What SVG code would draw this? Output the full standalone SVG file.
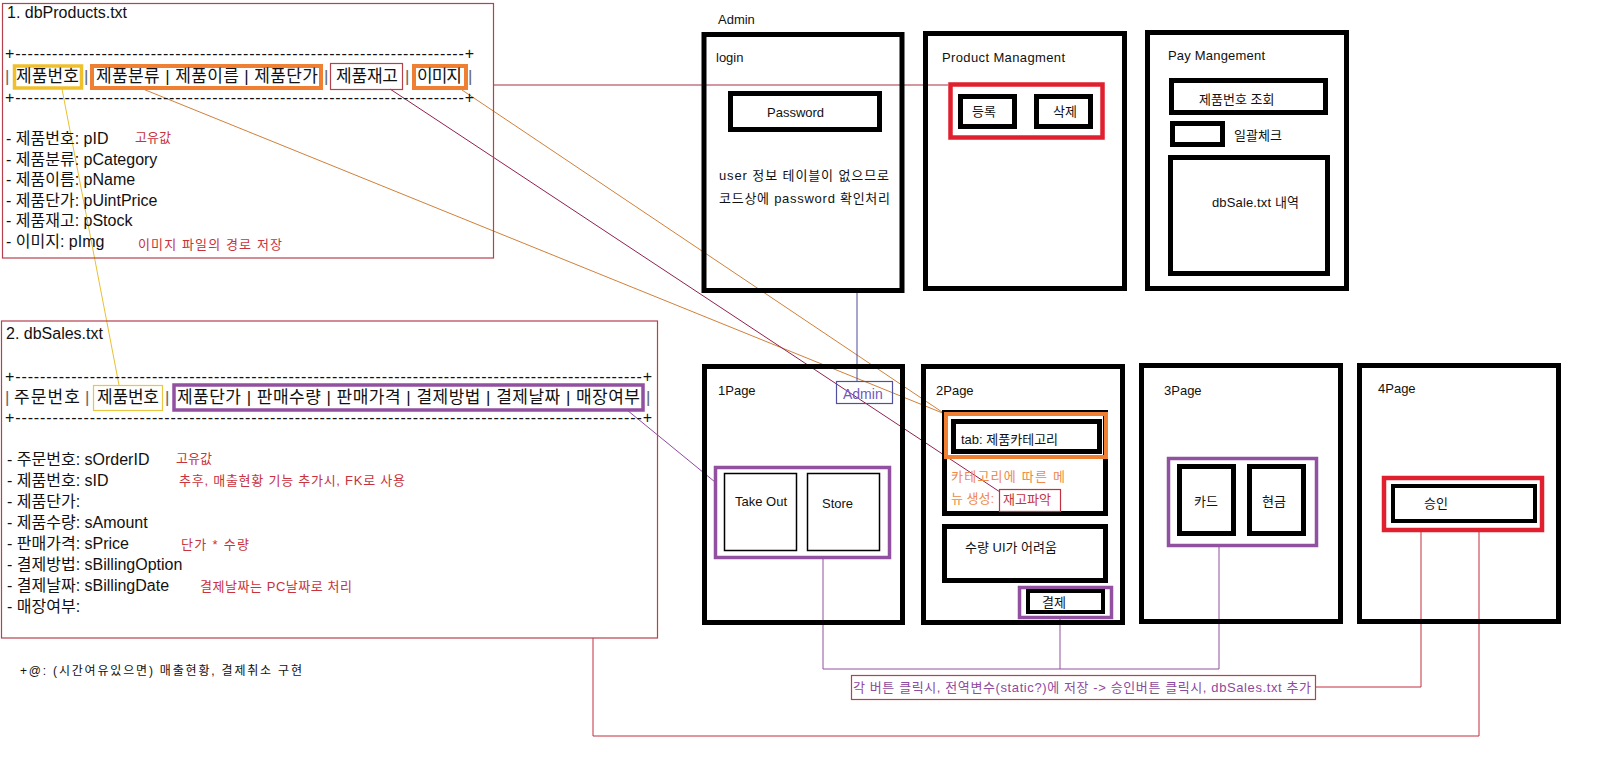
<svg xmlns="http://www.w3.org/2000/svg" width="1601" height="780" viewBox="0 0 1601 780">
<style>
text{font-family:"Liberation Sans","Noto Sans CJK KR",sans-serif;fill:#111;}
.t16{font-size:16px;}
.t17{font-size:17px;}
.t13{font-size:13px;}
.t12{font-size:12px;}
.red{fill:#c8323c;}
.pipe{fill:#666;font-size:17px;}
.file{fill:none;stroke:#b5404e;stroke-width:1.2;}
.page{fill:none;stroke:#000;stroke-width:5;}
.blk{fill:none;stroke:#000;stroke-width:5;}
.blk4{fill:none;stroke:#000;stroke-width:4;}
.thin{fill:none;stroke:#000;stroke-width:1.5;}
.pur{fill:none;stroke:#9150a0;stroke-width:3.5;}
.redbox{fill:none;stroke:#e0202e;stroke-width:4.5;}
.orbox{fill:none;stroke:#ee7f33;stroke-width:4;}
.ylbox{fill:none;stroke:#f0c02c;stroke-width:3.5;}
.c{fill:none;stroke-width:1;}
</style>

<g id="connectors">
  <line class="c" x1="494" y1="85" x2="948" y2="85" stroke="#a83040"/>
  <line class="c" x1="143" y1="89" x2="945" y2="414" stroke="#d0803a"/>
  <line class="c" x1="462" y1="90" x2="945" y2="414" stroke="#d0803a"/>
  <line class="c" x1="390" y1="89" x2="1000" y2="492" stroke="#902050"/>
  <line class="c" x1="62" y1="89" x2="119" y2="385" stroke="#e8c030"/>
  <line class="c" x1="627" y1="410" x2="715" y2="482" stroke="#8e4a9e"/>
  <line class="c" x1="857" y1="290" x2="857" y2="381" stroke="#4a4a9a"/>
  <polyline class="c" points="823,559 823,669 1219,669 1219,547" stroke="#9150a0"/>
  <line class="c" x1="1060" y1="618" x2="1060" y2="669" stroke="#9150a0"/>
  <polyline class="c" points="1316,687 1421,687 1421,532" stroke="#c0303c"/>
  <polyline class="c" points="1479,532 1479,736 593,736 593,638" stroke="#c0303c"/>
</g>

<g id="dbProducts">
  <rect class="file" x="2.5" y="3.5" width="491" height="254.5"/>
  <text class="t16" x="7" y="18">1. dbProducts.txt</text>
  <text class="t16" x="5" y="59" textLength="469" lengthAdjust="spacing">+-------------------------------------------------------------------------+</text>
  <text class="t16" x="5" y="103" textLength="469" lengthAdjust="spacing">+-------------------------------------------------------------------------+</text>
  <rect class="ylbox" x="14.5" y="66" width="67" height="22"/>
  <rect class="orbox" x="92" y="66" width="229" height="22"/>
  <rect fill="none" stroke="#b5404e" stroke-width="1.2" x="330.5" y="63.5" width="72" height="26"/>
  <rect class="orbox" x="414" y="66" width="52" height="22"/>
  <text class="pipe" x="5" y="82">|</text>
  <text class="t17" x="16" y="82" textLength="63">제품번호</text>
  <text class="pipe" x="84" y="82">|</text>
  <text class="t17" x="96" y="82" textLength="222">제품분류 | 제품이름 | 제품단가</text>
  <text class="pipe" x="324" y="82">|</text>
  <text class="t17" x="336" y="82" textLength="62">제품재고</text>
  <text class="pipe" x="405" y="82">|</text>
  <text class="t17" x="417" y="82" textLength="45">이미지</text>
  <text class="pipe" x="468" y="82">|</text>
  <text class="t16" x="6" y="144">- 제품번호: pID</text>
  <text class="t16" x="6" y="165">- 제품분류: pCategory</text>
  <text class="t16" x="6" y="185">- 제품이름: pName</text>
  <text class="t16" x="6" y="206">- 제품단가: pUintPrice</text>
  <text class="t16" x="6" y="226">- 제품재고: pStock</text>
  <text class="t16" x="6" y="247">- 이미지: pImg</text>
  <text class="t13 red" x="135" y="142">고유값</text>
  <text class="t13 red" x="138" y="249" textLength="144">이미지 파일의 경로 저장</text>
</g>

<g id="dbSales">
  <rect class="file" x="1.5" y="321" width="656" height="317"/>
  <text class="t16" x="6" y="339">2. dbSales.txt</text>
  <text class="t16" x="5" y="382" textLength="647" lengthAdjust="spacing">+-----------------------------------------------------------------------------------------------------+</text>
  <text class="t16" x="5" y="423" textLength="647" lengthAdjust="spacing">+-----------------------------------------------------------------------------------------------------+</text>
  <rect fill="none" stroke="#e8c840" stroke-width="1.2" x="93.5" y="385.5" width="69" height="25"/>
  <rect class="pur" x="174" y="385" width="469" height="25"/>
  <text class="pipe" x="5" y="403">|</text>
  <text class="t17" x="14" y="403" textLength="66">주문번호</text>
  <text class="pipe" x="85" y="403">|</text>
  <text class="t17" x="97" y="403" textLength="62">제품번호</text>
  <text class="pipe" x="165" y="403">|</text>
  <text class="t17" x="177" y="403" textLength="463">제품단가 | 판매수량 | 판매가격 | 결제방법 | 결제날짜 | 매장여부</text>
  <text class="pipe" x="646" y="403">|</text>
  <text class="t16" x="7" y="465">- 주문번호: sOrderID</text>
  <text class="t16" x="7" y="486">- 제품번호: sID</text>
  <text class="t16" x="7" y="507">- 제품단가:</text>
  <text class="t16" x="7" y="528">- 제품수량: sAmount</text>
  <text class="t16" x="7" y="549">- 판매가격: sPrice</text>
  <text class="t16" x="7" y="570">- 결제방법: sBillingOption</text>
  <text class="t16" x="7" y="591">- 결제날짜: sBillingDate</text>
  <text class="t16" x="7" y="612">- 매장여부:</text>
  <text class="t13 red" x="176" y="463">고유값</text>
  <text class="t13 red" x="179" y="485" textLength="226">추후, 매출현황 기능 추가시, FK로 사용</text>
  <text class="t13 red" x="181" y="549" textLength="68">단가 * 수량</text>
  <text class="t13 red" x="200" y="591" textLength="152">결제날짜는 PC날짜로 처리</text>
</g>

<g id="note">
  <text class="t12" x="20" y="675" textLength="282">+@: (시간여유있으면) 매출현황, 결제취소 구현</text>
</g>

<g id="admin-login">
  <text class="t13" x="718" y="24">Admin</text>
  <rect class="page" x="704" y="34.5" width="198" height="256"/>
  <text class="t13" x="716" y="62">login</text>
  <rect class="blk" x="730.5" y="93.5" width="149" height="36"/>
  <text class="t13" x="767" y="117">Password</text>
  <text class="t13" x="719" y="180" textLength="170">user 정보 테이블이 없으므로</text>
  <text class="t13" x="719" y="203" textLength="171">코드상에 password 확인처리</text>
</g>

<g id="product-management">
  <rect class="page" x="925.5" y="33.5" width="199" height="255"/>
  <text class="t13" x="942" y="62" textLength="123">Product Managment</text>
  <rect class="redbox" x="950.5" y="84.5" width="152" height="53"/>
  <rect class="blk" x="960.5" y="96.5" width="54" height="30"/>
  <text class="t13" x="972" y="116">등록</text>
  <rect class="blk" x="1036.5" y="96.5" width="54" height="30"/>
  <text class="t13" x="1053" y="116">삭제</text>
</g>

<g id="pay-management">
  <rect class="page" x="1147.5" y="32.5" width="199" height="256"/>
  <text class="t13" x="1168" y="60" textLength="97">Pay Mangement</text>
  <rect class="blk" x="1171.5" y="80.5" width="154" height="32"/>
  <text class="t13" x="1199" y="104">제품번호 조회</text>
  <rect class="blk" x="1172.5" y="123.5" width="50" height="21"/>
  <text class="t13" x="1234" y="140">일괄체크</text>
  <rect class="blk" x="1170.5" y="157.5" width="157" height="116"/>
  <text class="t13" x="1212" y="207" textLength="87">dbSale.txt 내역</text>
</g>

<g id="page1">
  <rect class="page" x="704.5" y="366.5" width="198" height="256"/>
  <text class="t13" x="718" y="395">1Page</text>
  <rect fill="none" stroke="#5050a0" stroke-width="1.2" x="836.5" y="381.5" width="56" height="22"/>
  <text class="t13" x="843" y="399" style="fill:#7058c0;font-size:14px">Admin</text>
  <rect class="pur" x="715.5" y="467.5" width="174" height="90"/>
  <rect class="thin" x="724.5" y="473.5" width="72" height="77"/>
  <text class="t13" x="735" y="506">Take Out</text>
  <rect class="thin" x="807.5" y="473.5" width="72" height="77"/>
  <text class="t13" x="822" y="508">Store</text>
</g>

<g id="page2">
  <rect class="page" x="923.5" y="366.5" width="199" height="256"/>
  <text class="t13" x="936" y="395">2Page</text>
  <rect class="blk" x="944.5" y="412.5" width="161" height="101"/>
  <rect fill="none" stroke="#fff" stroke-width="3" x="946" y="414" width="160" height="43"/>
  <rect class="orbox" x="946" y="414" width="160" height="43"/>
  <rect class="blk" x="953.5" y="421.5" width="146" height="30"/>
  <text class="t13" x="961" y="444">tab: 제품카테고리</text>
  <text class="t13" x="951" y="481" style="fill:#ee8a4a" textLength="114">카테고리에 따른 메</text>
  <text class="t13" x="951" y="503" style="fill:#ee8a4a">뉴 생성:</text>
  <rect fill="none" stroke="#c03040" stroke-width="1.2" x="999.5" y="489.5" width="61" height="22"/>
  <text class="t13 red" x="1003" y="504">재고파악</text>
  <rect class="blk" x="944.5" y="526.5" width="161" height="54"/>
  <text class="t13" x="965" y="552">수량 UI가 어려움</text>
  <rect class="pur" x="1019.5" y="587.5" width="92" height="30"/>
  <rect class="blk4" x="1028" y="591" width="75" height="21"/>
  <text class="t13" x="1042" y="607">결제</text>
</g>

<g id="page3">
  <rect class="page" x="1141.5" y="365.5" width="199" height="256"/>
  <text class="t13" x="1164" y="395">3Page</text>
  <rect class="pur" x="1168.5" y="458.5" width="148" height="87"/>
  <rect class="blk" x="1179.5" y="466.5" width="54" height="67"/>
  <text class="t13" x="1194" y="506">카드</text>
  <rect class="blk" x="1249.5" y="466.5" width="54" height="67"/>
  <text class="t13" x="1262" y="506">현금</text>
</g>

<g id="page4">
  <rect class="page" x="1359.5" y="365.5" width="199" height="256"/>
  <text class="t13" x="1378" y="393">4Page</text>
  <rect class="redbox" x="1384" y="478" width="158" height="52"/>
  <rect class="blk4" x="1393" y="486" width="142" height="35"/>
  <text class="t13" x="1424" y="508">승인</text>
</g>

<g id="bottom-note">
  <rect fill="none" stroke="#b5404e" stroke-width="1.2" x="851.5" y="675.5" width="464" height="24"/>
  <text class="t13" x="853" y="692" style="fill:#8e4a9e" textLength="458">각 버튼 클릭시, 전역변수(static?)에 저장 -&gt; 승인버튼 클릭시, dbSales.txt 추가</text>
</g>
</svg>
